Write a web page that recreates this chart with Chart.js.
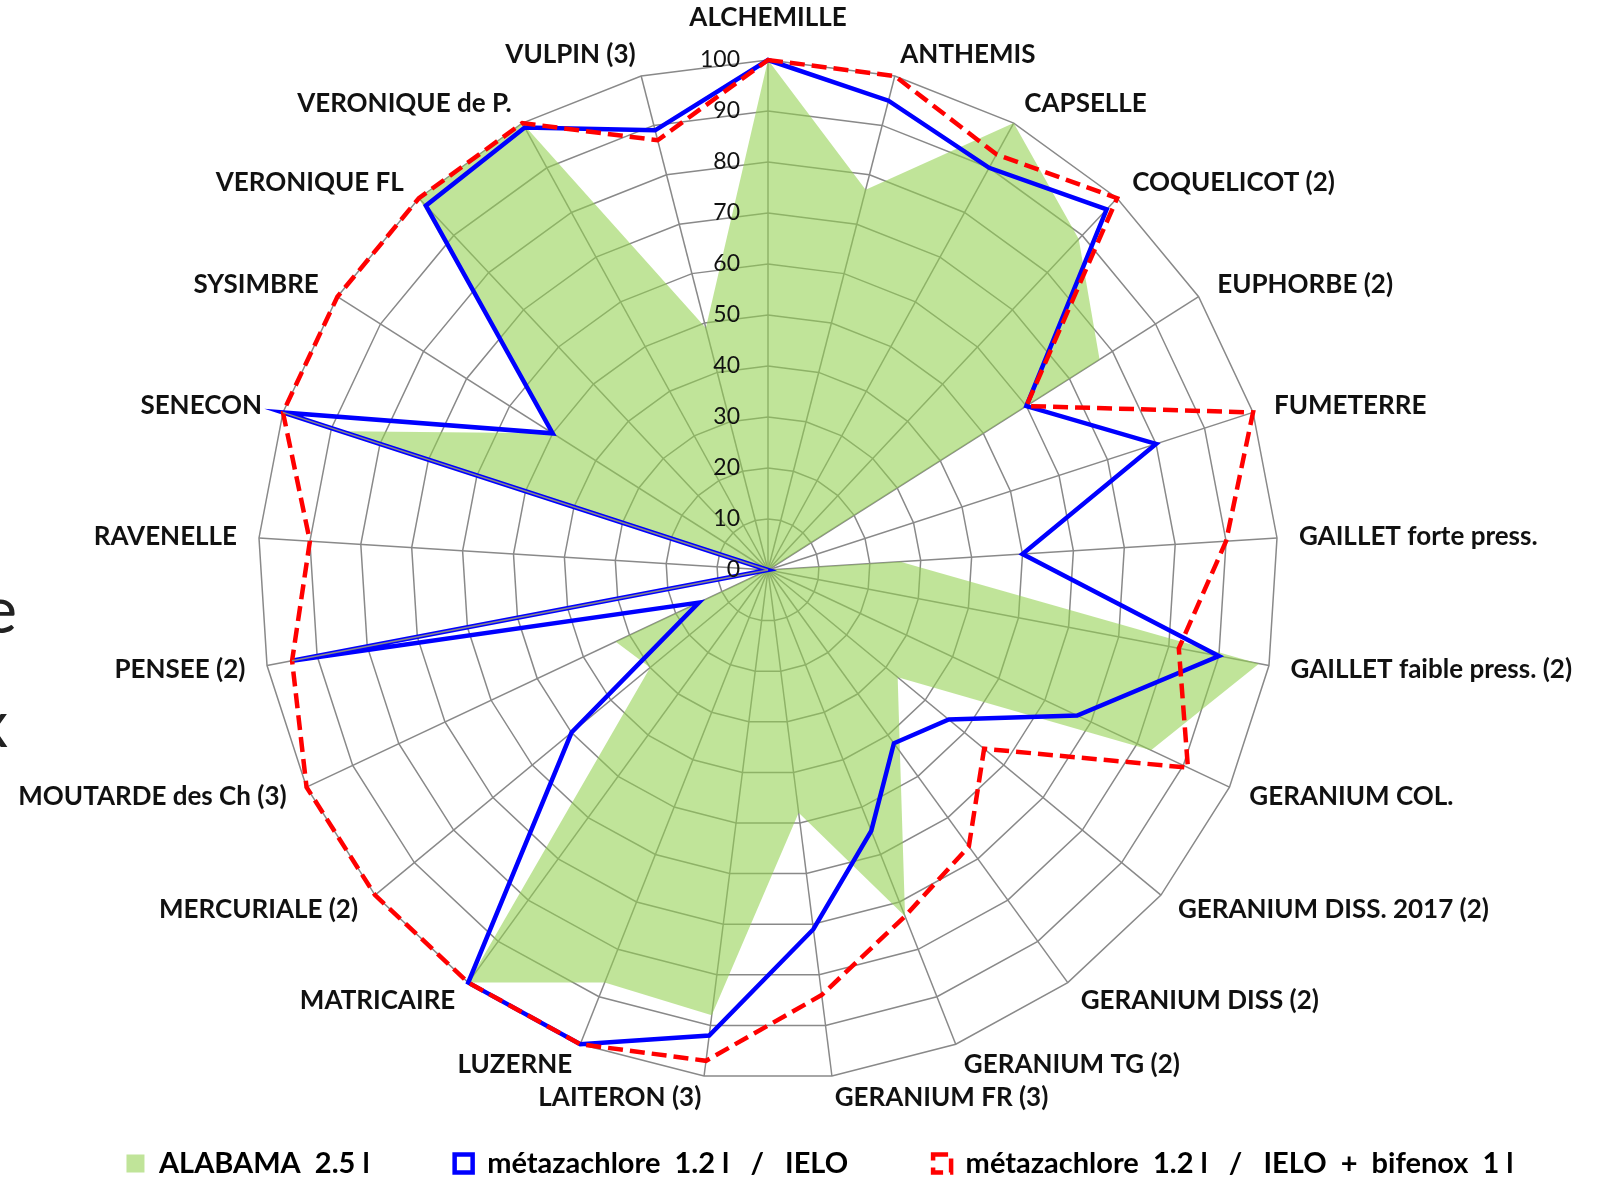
<!DOCTYPE html>
<html lang="fr">
<head>
<meta charset="utf-8">
<title>Efficacité sur adventices</title>
<script src="https://cdn.jsdelivr.net/npm/chart.js@4.4.1/dist/chart.umd.min.js"></script>
<style>
    html, body { margin: 0; padding: 0; background: #fff; }
    #cadre { width: 1598px; height: 1178px; position: relative; }
</style>
</head>
<body>
<div id="cadre"><canvas id="graficoRadar"></canvas></div>
<script>
//valeurs (efficacité en %)
const adventices = ['ALCHEMILLE', 'ANTHEMIS', 'CAPSELLE', 'COQUELICOT (2)', 'EUPHORBE (2)', 'FUMETERRE',
    'GAILLET forte press.', 'GAILLET faible press. (2)', 'GERANIUM COL.', 'GERANIUM DISS. 2017 (2)',
    'GERANIUM DISS (2)', 'GERANIUM TG (2)', 'GERANIUM FR (3)', 'LAITERON (3)', 'LUZERNE', 'MATRICAIRE',
    'MERCURIALE (2)', 'MOUTARDE des Ch (3)', 'PENSEE (2)', 'RAVENELLE', 'SENECON', 'SYSIMBRE',
    'VERONIQUE FL', 'VERONIQUE de P.', 'VULPIN (3)'];
const alabama = [100, 77, 100, 89, 77, 0, 26, 98, 83, 33, 44, 73, 48, 88, 87, 100, 30, 33, 0, 0, 88, 50, 100, 100, 49];
const metazachloreIelo = [100, 95, 90, 97, 60, 80, 50, 90, 67, 46, 42, 55, 71, 92, 100, 100, 50, 15, 95, 0, 100, 50, 98, 99, 89];
const metazachloreIeloBifenox = [100, 100, 93, 100, 60, 100, 90, 82, 91, 55, 67, 73, 84, 97, 100, 100, 100, 100, 95, 90, 100, 100, 100, 100, 87];
const graduations = [0, 10, 20, 30, 40, 50, 60, 70, 80, 90, 100];
const series = ['ALABAMA  2.5 l', 'métazachlore  1.2 l   /   IELO', 'métazachlore  1.2 l   /   IELO  +  bifenox  1 l'];

//position du radar dans la page
const centreX = 768, centreY = 570, rayon = 510;

//place le radar et écrit graduations + noms des adventices
const radarPlugin = {
    id: 'radarPlugin',
    afterLayout(chart) {
        const r = chart.scales.r;
        r.xCenter = centreX;
        r.yCenter = centreY;
        r.drawingArea = rayon;
    },
    afterDatasetsDraw(chart) {
        const ctx = chart.ctx;
        const r = chart.scales.r;
        ctx.save();

        //trait gris dans la ligne bleue quand elle passe par le centre
        const n = metazachloreIelo.length;
        ctx.strokeStyle = '#898989';
        ctx.lineWidth = 1.5;
        metazachloreIelo.forEach((v, i) => {
            if (v !== 0) return;
            [(i + n - 1) % n, (i + 1) % n].forEach(j => {
                const p = r.getPointPositionForValue(j, metazachloreIelo[j]);
                ctx.beginPath();
                ctx.moveTo(r.xCenter, r.yCenter);
                ctx.lineTo(p.x, p.y);
                ctx.stroke();
            });
        });

        ctx.fillStyle = '#111';
        ctx.textBaseline = 'middle';

        ctx.font = '23px Lato';
        ctx.textAlign = 'right';
        graduations.forEach(v => {
            ctx.fillText(String(v), r.xCenter - 28, r.yCenter - r.getDistanceFromCenterForValue(v));
        });

        ctx.font = 'bold 26px Lato';
        adventices.forEach((nom, i) => {
            let p = r.getPointPosition(i, r.drawingArea + 22);
            if (Math.abs(p.x - r.xCenter) < 1) {
                p = r.getPointPosition(i, r.drawingArea + 42);
                ctx.textAlign = 'center';
            } else {
                ctx.textAlign = p.x > r.xCenter ? 'left' : 'right';
            }
            ctx.fillText(nom, p.x, p.y);
        });

        //bouts de texte coupés au bord gauche
        ctx.fillStyle = '#222';
        ctx.font = '66px Lato';
        ctx.textBaseline = 'alphabetic';
        ctx.textAlign = 'right';
        ctx.fillText('e', 17, 633);
        ctx.fillText('x', 8, 747);
        ctx.restore();
    }
};

const ctxRadar = document.getElementById('graficoRadar').getContext('2d');

new Chart(ctxRadar, {
    type: 'radar',
    data: {
        labels: adventices,
        datasets: [{
            label: series[0],
            data: alabama,
            backgroundColor: 'rgba(146, 208, 80, 0.58)',
            borderWidth: 0,
            fill: true,
            order: 3
        }, {
            label: series[1],
            data: metazachloreIelo,
            backgroundColor: 'rgba(255, 255, 255, 0)',
            borderColor: '#0000ff',
            borderWidth: 4.5,
            fill: false,
            order: 2
        }, {
            label: series[2],
            data: metazachloreIeloBifenox,
            backgroundColor: 'rgba(255, 255, 255, 0)',
            borderColor: '#ff0000',
            borderWidth: 4.5,
            borderDash: [15, 7],
            fill: false,
            order: 1
        }]
    },
    options: {
        responsive: true,
        maintainAspectRatio: false,
        animation: false,
        layout: {
            padding: { left: 0, right: -42, top: 0, bottom: -10 }
        },
        elements: {
            point: { radius: 0, hoverRadius: 0 },
            line: { tension: 0 }
        },
        datasets: {
            radar: { clip: false }
        },
        scales: {
            r: {
                min: 0,
                max: 100,
                ticks: { display: false, stepSize: 10 },
                pointLabels: { display: false },
                grid: { color: '#898989', lineWidth: 1.5 },
                angleLines: { color: '#898989', lineWidth: 1.5 }
            }
        },
        plugins: {
            tooltip: { enabled: false },
            legend: {
                display: true,
                position: 'bottom',
                labels: {
                    color: '#000',
                    font: { family: 'Lato', size: 29, weight: 'bold' },
                    boxWidth: 18,
                    boxHeight: 18,
                    padding: 85,
                    sort: (a, b) => a.datasetIndex - b.datasetIndex
                }
            }
        }
    },
    plugins: [radarPlugin]
});
</script>
</body>
</html>
